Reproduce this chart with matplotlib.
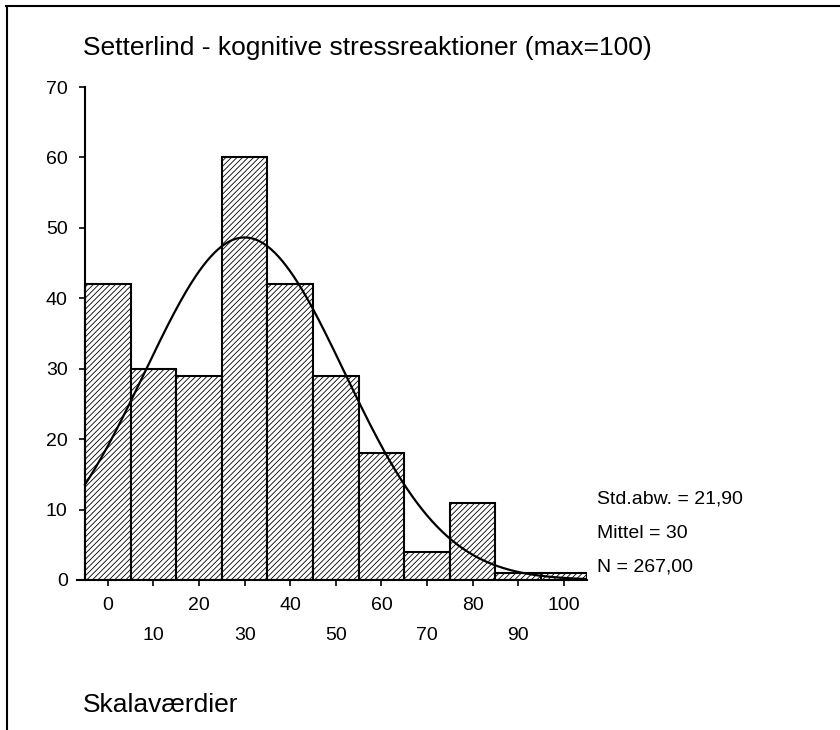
import numpy as np
import matplotlib
matplotlib.use('Agg')
import matplotlib.pyplot as plt
from matplotlib.lines import Line2D

plt.rcParams['font.family'] = ['Liberation Sans', 'DejaVu Sans']
plt.rcParams['hatch.linewidth'] = 0.6

# --- data ---
bin_centers = [0, 10, 20, 30, 40, 50, 60, 70, 80, 90, 100]
counts = [42, 30, 29, 60, 42, 29, 18, 4, 11, 1, 1]
bin_width = 10
mean_val = 30.0
std_val = 21.90
n_total = 267

title = 'Setterlind - kognitive stressreaktioner (max=100)'
xlabel = 'Skalaværdier'
stats_lines = ['Std.abw. = 21,90', 'Mittel = 30', 'N = 267,00']

fig = plt.figure(figsize=(8.4, 7.3), dpi=100)
ax = fig.add_axes([0.092, 0.2055, 0.6063, 0.6753])

ax.bar(bin_centers, counts, width=bin_width, color='white', edgecolor='black',
       linewidth=1.5, hatch='//////', zorder=2)

# normal curve from the shown statistics
xs = np.linspace(-5, 105, 400)
pdf = np.exp(-0.5 * ((xs - mean_val) / std_val) ** 2) / (std_val * np.sqrt(2 * np.pi))
ax.plot(xs, pdf * n_total * bin_width, color='black', linewidth=1.6, zorder=3)

ax.set_xlim(-6.7, 105)
ax.set_ylim(0, 70)

for s in ['top', 'right']:
    ax.spines[s].set_visible(False)
ax.spines['left'].set_position(('data', -5))
ax.spines['left'].set_linewidth(1.5)
ax.spines['bottom'].set_linewidth(1.5)

ax.set_yticks(np.arange(0, 71, 10))
ax.tick_params(axis='y', length=4.5, width=1.2, pad=8, labelsize=14)

ax.set_xticks([0, 20, 40, 60, 80, 100])
ax.set_xticks([10, 30, 50, 70, 90], minor=True)
ax.set_xticklabels(['0', '20', '40', '60', '80', '100'])
ax.set_xticklabels(['10', '30', '50', '70', '90'], minor=True)
ax.tick_params(axis='x', which='major', length=4, width=1.2, pad=8, labelsize=14)
ax.tick_params(axis='x', which='minor', length=4, width=1.2, pad=30, labelsize=14)

fig.text(83 / 840, 1 - 55 / 730, title, fontsize=19, ha='left', va='baseline')
fig.text(83 / 840, 1 - 712 / 730, xlabel, fontsize=19, ha='left', va='baseline')

for i, line in enumerate(stats_lines):
    fig.text(597 / 840, 1 - (503 + 34.5 * i) / 730, line, fontsize=14,
             ha='left', va='baseline')

# frame lines (top and left)
fig.add_artist(Line2D([6 / 840, 1], [1 - 6 / 730, 1 - 6 / 730],
                      transform=fig.transFigure, color='black', linewidth=1.5))
fig.add_artist(Line2D([7 / 840, 7 / 840], [0, 1 - 6 / 730],
                      transform=fig.transFigure, color='black', linewidth=1.5))

fig.savefig('out.png', dpi=100, facecolor='white')
